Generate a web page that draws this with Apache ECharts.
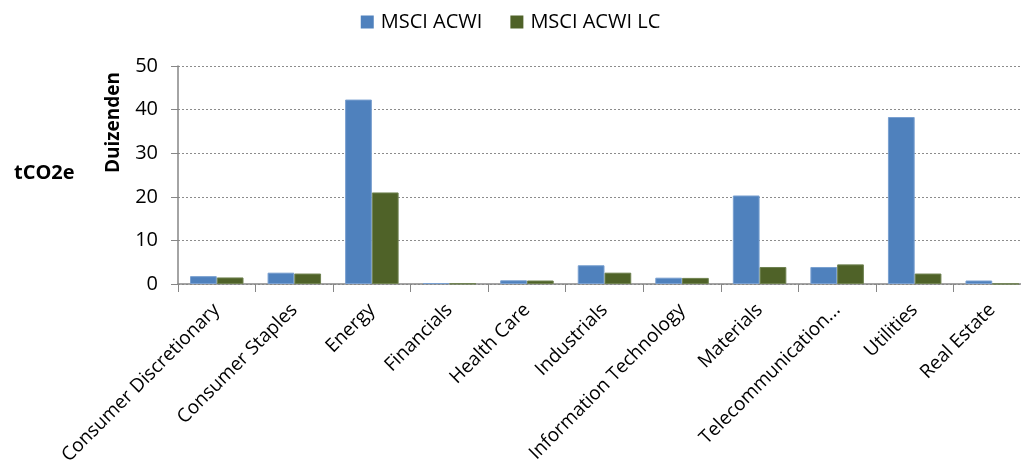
<!DOCTYPE html>
<html>
<head>
<meta charset="utf-8">
<script src="https://cdn.jsdelivr.net/npm/echarts@6/dist/echarts.min.js"></script>
<style>
  html, body { margin: 0; padding: 0; background: #ffffff; }
  #chart { width: 1021px; height: 466px; }
</style>
</head>
<body>
<div id="chart"></div>
<script>
// Sector emissions, thousands of tCO2e
const categories = [
  'Consumer Discretionary', 'Consumer Staples', 'Energy', 'Financials',
  'Health Care', 'Industrials', 'Information Technology', 'Materials',
  'Telecommunication Services', 'Utilities', 'Real Estate'
];
const acwi   = [1.8, 2.6, 42.3, 0.2, 0.85, 4.3, 1.45, 20.3, 3.9, 38.3, 0.8];
const acwiLc = [1.5, 2.4, 21.0, 0.1, 0.8, 2.6, 1.4, 3.9, 4.5, 2.4, 0.05];
const yTicks = { min: 0, max: 50, interval: 10 };

const FONT = '"Open Sans", "Noto Sans", sans-serif';
const chart = echarts.init(document.getElementById('chart'));

chart.setOption({
  animation: false,
  textStyle: { fontFamily: FONT },
  legend: {
    top: 7,
    left: 'center',
    itemWidth: 13,
    itemHeight: 13,
    itemGap: 28,
    icon: 'rect',
    itemStyle: { borderWidth: 0 },
    textStyle: { fontSize: 20, color: '#000', fontFamily: FONT, padding: [0, 0, 0, 2] },
    data: ['MSCI ACWI', 'MSCI ACWI LC']
  },
  grid: { left: 178, top: 66, bottom: 182, right: -10, containLabel: false, outerBoundsMode: 'none' },
  graphic: [
    {
      type: 'text', left: 14, top: 163,
      style: { text: 'tCO2e', font: 'bold 20px ' + FONT, fill: '#000' }
    },
    {
      type: 'text', x: 104, y: 173, rotation: Math.PI / 2,
      style: { text: 'Duizenden', font: 'bold 19px ' + FONT, fill: '#000' }
    }
  ],
  xAxis: {
    type: 'category',
    data: categories,
    axisLine: { lineStyle: { color: '#868686', width: 1.5 } },
    axisTick: { show: true, interval: 0, length: 8, lineStyle: { color: '#868686' } },
    axisLabel: {
      interval: 0, rotate: 45, margin: 23, hideOverlap: false,
      overflow: 'none',
      fontSize: 19, color: '#000', fontFamily: FONT,
      formatter: v => v.length > 22 ? v.slice(0, 17) + '...' : v
    }
  },
  yAxis: {
    type: 'value',
    min: yTicks.min, max: yTicks.max, interval: yTicks.interval,
    axisLine: { show: true, lineStyle: { color: '#868686', width: 1.5 } },
    axisTick: { show: true, inside: false, length: 7, lineStyle: { color: '#868686' } },
    axisLabel: { fontSize: 20, color: '#000', margin: 20, fontFamily: FONT },
    splitLine: { show: true, lineStyle: { color: '#8c8c8c', type: [2, 2], width: 1 } }
  },
  series: [
    {
      name: 'MSCI ACWI', type: 'bar', data: acwi,
      barGap: '0%', barCategoryGap: '31%',
      itemStyle: { color: '#4F81BD', borderColor: '#7aa0d0', borderWidth: 1 }
    },
    {
      name: 'MSCI ACWI LC', type: 'bar', data: acwiLc,
      itemStyle: { color: '#4F6228', borderColor: '#6f8250', borderWidth: 1 }
    }
  ]
});
</script>
</body>
</html>
